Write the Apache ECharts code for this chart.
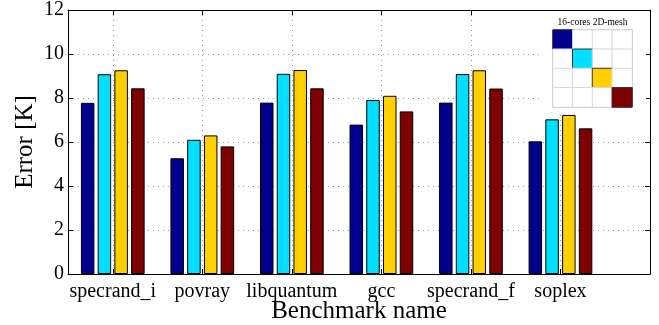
<!DOCTYPE html>
<html>
<head>
<meta charset="utf-8">
<script src="https://cdn.jsdelivr.net/npm/echarts@6/dist/echarts.min.js"></script>
<style>html,body{margin:0;padding:0;background:#fff}#c{width:659px;height:325px}</style>
</head>
<body>
<div id="c"></div>
<script>
var categories = ['specrand_i', 'povray', 'libquantum', 'gcc', 'specrand_f', 'soplex'];
var catPositions = [1, 2, 3, 4, 5, 6];
var seriesBlue = [7.78, 5.26, 7.79, 6.79, 7.79, 6.03];
var seriesCyan = [9.08, 6.10, 9.10, 7.91, 9.09, 7.03];
var seriesYellow = [9.26, 6.30, 9.27, 8.10, 9.26, 7.23];
var seriesMaroon = [8.44, 5.80, 8.44, 7.39, 8.43, 6.62];
var yTicks = [0, 2, 4, 6, 8, 10, 12];
var meshRows = ['r1', 'r2', 'r3', 'r4'];
var meshCols = ['c1', 'c2', 'c3', 'c4'];
var meshActive = [[0, 0], [1, 1], [2, 2], [3, 3]]; // [col,row] of active core per series
var inset_title = '16-cores 2D-mesh';

var colors = ['#00008F', '#00DFFF', '#FFCF00', '#7F0000'];
var FONT = '"Liberation Serif", "DejaVu Serif", serif';

function pairs(vals) { return vals.map(function (v, i) { return [catPositions[i], v]; }); }

var meshData = [];
for (var r = 0; r < 4; r++) {
  for (var c = 0; c < 4; c++) {
    var idx = -1;
    meshActive.forEach(function (p, k) { if (p[0] === c && p[1] === r) idx = k; });
    meshData.push({
      value: [c, r, idx],
      itemStyle: idx >= 0 ? { color: colors[idx], borderColor: '#333', borderWidth: 1 }
                          : { color: '#ffffff', borderColor: '#d8d8d8', borderWidth: 1 }
    });
  }
}

var barSeries = [seriesBlue, seriesCyan, seriesYellow, seriesMaroon].map(function (vals, i) {
  return {
    type: 'bar', xAxisIndex: 0, yAxisIndex: 0,
    data: pairs(vals), barWidth: 13.5, barGap: '24%',
    itemStyle: { color: colors[i], borderColor: '#000', borderWidth: 1 },
    z: 3, silent: true
  };
});

var chart = echarts.init(document.getElementById('c'), null, { renderer: 'canvas' });
chart.setOption({
  animation: false,
  textStyle: { fontFamily: FONT },
  grid: [
    { left: 68, top: 10, right: 9, bottom: 51, show: false, containLabel: false, outerBoundsMode: 'none' },
    { left: 553, top: 30, width: 79, height: 77, show: true, borderColor: '#666', borderWidth: 1, backgroundColor: '#fff', z: 4, containLabel: false, outerBoundsMode: 'none' }
  ],
  xAxis: [
    {
      type: 'value', gridIndex: 0, min: 0.5, max: 7, position: 'bottom',
      name: 'Benchmark name', nameLocation: 'middle', nameGap: 25, nameMoveOverlap: false,
      nameTextStyle: { fontFamily: FONT, fontSize: 25, color: '#000' },
      axisLine: { show: true, onZero: false, lineStyle: { color: '#000', width: 1 } },
      axisTick: { show: true, inside: true, length: 5, customValues: catPositions, lineStyle: { color: '#000' } },
      axisLabel: { show: true, customValues: catPositions, margin: 8, fontFamily: FONT, fontSize: 20, color: '#000',
        formatter: function (v) { return categories[Math.round(v) - 1] || ''; } },
      splitLine: { show: true, lineStyle: { color: '#9a9a9a', type: [1, 4], width: 1 } }
    },
    {
      type: 'value', gridIndex: 0, min: 0.5, max: 7, position: 'top',
      axisLine: { show: true, onZero: false, lineStyle: { color: '#000', width: 1 } },
      axisTick: { show: true, inside: true, length: 5, customValues: catPositions, lineStyle: { color: '#000' } },
      axisLabel: { show: false }, splitLine: { show: false }
    },
    {
      type: 'category', gridIndex: 1, data: meshCols, show: false
    }
  ],
  yAxis: [
    {
      type: 'value', gridIndex: 0, min: 0, max: 12, interval: 2, position: 'left',
      name: 'Error [K]', nameLocation: 'middle', nameGap: 30, nameRotate: 90, nameMoveOverlap: false,
      nameTextStyle: { fontFamily: FONT, fontSize: 25, color: '#000' },
      axisLine: { show: true, lineStyle: { color: '#000', width: 1 } },
      axisTick: { show: true, inside: true, length: 5, lineStyle: { color: '#000' } },
      axisLabel: { show: true, margin: 4, fontFamily: FONT, fontSize: 20, color: '#000',
        formatter: function (v) { return yTicks.indexOf(v) >= 0 ? String(v) : ''; } },
      splitLine: { show: true, lineStyle: { color: '#9a9a9a', type: [1, 4], width: 1 } }
    },
    {
      type: 'value', gridIndex: 0, min: 0, max: 12, interval: 2, position: 'right',
      axisLine: { show: true, lineStyle: { color: '#000', width: 1 } },
      axisTick: { show: true, inside: true, length: 5, lineStyle: { color: '#000' } },
      axisLabel: { show: false }, splitLine: { show: false }
    },
    {
      type: 'category', gridIndex: 1, data: meshRows, inverse: true, show: false
    }
  ],
  graphic: [
    { type: 'rect', shape: { x: 540, y: 11, width: 106, height: 101 }, style: { fill: '#fff' }, z: 1, silent: true },
    { type: 'text', x: 592.5, y: 22, style: { text: inset_title, fontFamily: FONT, fontSize: 9.5, fill: '#000', align: 'center', verticalAlign: 'middle' }, z: 5 }
  ],
  series: barSeries.concat([
    {
      type: 'heatmap', xAxisIndex: 2, yAxisIndex: 2, data: meshData, z: 5, silent: true,
      label: { show: false }
    }
  ])
});
</script>
</body>
</html>
